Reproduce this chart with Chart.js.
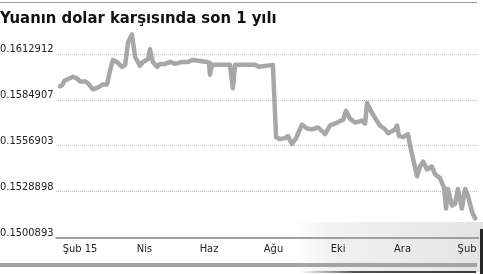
<!DOCTYPE html>
<html>
<head>
<meta charset="utf-8">
<script src="https://cdn.jsdelivr.net/npm/chart.js@4.4.1/dist/chart.umd.min.js"></script>
<style>
	html, body { margin: 0; padding: 0; background: #fff; }
	#wrap { width: 483px; height: 274px; }
</style>
</head>
<body>
<div id="wrap"><canvas id="myChart" width="483" height="274"></canvas></div>
<script>
// months counted from "Şub 15" (0) to next "Şub" (12)
var months = [-0.62, -0.56, -0.47, -0.22, -0.09, 0, 0.16, 0.25, 0.40, 0.56, 0.71, 0.84, 0.93, 1.02, 1.15, 1.30, 1.40, 1.49, 1.61, 1.71,
	1.86, 1.95, 2.11, 2.17, 2.26, 2.39, 2.48, 2.64, 2.79, 2.95, 3.16, 3.35, 3.50, 3.72, 3.94, 4.00, 4.03, 4.09, 4.65, 4.74,
	4.81, 5.43, 5.55, 5.98, 6.08, 6.20, 6.36, 6.45, 6.57, 6.70, 6.88, 7.04, 7.19, 7.38, 7.60, 7.75, 7.97, 8.16, 8.25, 8.37,
	8.53, 8.74, 8.84, 8.90, 9.05, 9.18, 9.30, 9.46, 9.55, 9.67, 9.77, 9.83, 9.89, 10.02, 10.17, 10.23, 10.29, 10.45, 10.54, 10.64,
	10.76, 10.91, 11.01, 11.16, 11.29, 11.35, 11.41, 11.53, 11.63, 11.72, 11.84, 11.94, 12.03, 12.16, 12.25];

var rates = [0.15933, 0.15939, 0.15969, 0.15992, 0.15980, 0.15963, 0.15963, 0.15951, 0.15915, 0.15927, 0.15945, 0.15945, 0.16028, 0.16094, 0.16082, 0.16052, 0.16064, 0.16201, 0.16249, 0.16112,
	0.16058, 0.16082, 0.16100, 0.16159, 0.16082, 0.16052, 0.16070, 0.16070, 0.16082, 0.16070, 0.16082, 0.16082, 0.16094, 0.16088, 0.16082, 0.16076, 0.16004, 0.16064, 0.16064, 0.15921,
	0.16064, 0.16064, 0.16052, 0.16064, 0.15623, 0.15611, 0.15617, 0.15629, 0.15581, 0.15617, 0.15700, 0.15676, 0.15671, 0.15682, 0.15641, 0.15694, 0.15712, 0.15730, 0.15784, 0.15736,
	0.15712, 0.15724, 0.15706, 0.15831, 0.15772, 0.15730, 0.15694, 0.15671, 0.15647, 0.15659, 0.15671, 0.15694, 0.15629, 0.15623, 0.15641, 0.15575, 0.15522, 0.15384, 0.15444, 0.15474,
	0.15426, 0.15444, 0.15396, 0.15373, 0.15313, 0.15188, 0.15307, 0.15206, 0.15218, 0.15307, 0.15188, 0.15307, 0.15265, 0.15164, 0.15128];

var xTickPos = [0, 2, 4, 6, 8, 10, 12];
var xTickLabels = ['Şub 15', 'Nis', 'Haz', 'Ağu', 'Eki', 'Ara', 'Şub'];
var yTicks = [0.1500893, 0.1528898, 0.1556903, 0.1584907, 0.1612912];

var points = months.map(function(m, i) {
	return { x: m, y: rates[i] };
});

// page decorations: thin rule on top, thick rule at bottom, scan smudge
var decor = {
	id: 'decor',
	beforeDraw: function(chart) {
		var c = chart.ctx;
		c.save();
		var g = c.createLinearGradient(295, 0, 483, 0);
		g.addColorStop(0, 'rgba(215,215,215,0)');
		g.addColorStop(0.2, 'rgba(215,215,215,0.35)');
		g.addColorStop(1, 'rgba(200,200,200,0.5)');
		c.fillStyle = g;
		c.fillRect(295, 222, 188, 50);
		var g2 = c.createLinearGradient(300, 0, 483, 0);
		g2.addColorStop(0, 'rgba(40,40,40,0)');
		g2.addColorStop(0.3, 'rgba(40,40,40,0.8)');
		g2.addColorStop(1, 'rgba(40,40,40,0.9)');
		c.fillStyle = g2;
		c.fillRect(300, 271, 176, 2);
		c.fillStyle = '#262626';
		c.fillRect(480, 229, 3, 45);
		c.fillStyle = '#999';
		c.fillRect(0, 2, 477, 1);
		c.fillStyle = '#a3a3a3';
		c.fillRect(0, 263, 477, 4);
		c.restore();
	}
};

var ctx = document.getElementById('myChart').getContext('2d');
var myChart = new Chart(ctx, {
	type: 'line',
	data: {
		datasets: [{
			data: points,
			borderColor: '#a7a7a9',
			borderWidth: 4.5,
			borderJoinStyle: 'round',
			borderCapStyle: 'round',
			pointRadius: 0,
			tension: 0
		}]
	},
	options: {
		responsive: false,
		animation: false,
		layout: { padding: { left: 0, right: 5, top: 4, bottom: 13 } },
		plugins: {
			legend: { display: false },
			tooltip: { enabled: false },
			title: {
				display: true,
				text: 'Yuanın dolar karşısında son 1 yılı',
				align: 'start',
				color: '#111',
				font: { family: "'Liberation Sans Narrow', 'DejaVu Sans Condensed', sans-serif", size: 16.5, weight: 'bold' },
				padding: { top: 5, bottom: 1 }
			}
		},
		scales: {
			x: {
				type: 'linear',
				min: -2.48,
				max: 12.34,
				afterBuildTicks: function(scale) {
					scale.ticks = xTickPos.map(function(v) { return { value: v }; });
				},
				grid: { display: false, drawTicks: false },
				border: { display: true, color: '#a0a0a0', width: 2 },
				ticks: {
					padding: 5,
					color: '#222',
					font: { family: "'DejaVu Sans Condensed', 'Noto Sans', sans-serif", size: 11 },
					callback: function(v) {
						var i = xTickPos.indexOf(v);
						return i >= 0 ? xTickLabels[i] : '';
					}
				}
			},
			y: {
				min: 0.1500893,
				max: 0.16278,
				afterBuildTicks: function(scale) {
					scale.ticks = yTicks.map(function(v) { return { value: v }; });
				},
				grid: { color: '#bdbdbd', lineWidth: 1, drawTicks: false },
				border: { display: false, dash: [1, 1] },
				ticks: {
					mirror: true,
					padding: 0,
					labelOffset: -5,
					color: '#222',
					showLabelBackdrop: true,
					backdropColor: '#fff',
					backdropPadding: { top: 1, bottom: 1, left: 0, right: 2 },
					font: { family: "'DejaVu Sans Condensed', 'Noto Sans', sans-serif", size: 11 },
					callback: function(v) { return v.toFixed(7); }
				}
			}
		}
	},
	plugins: [decor]
});
</script>
</body>
</html>
